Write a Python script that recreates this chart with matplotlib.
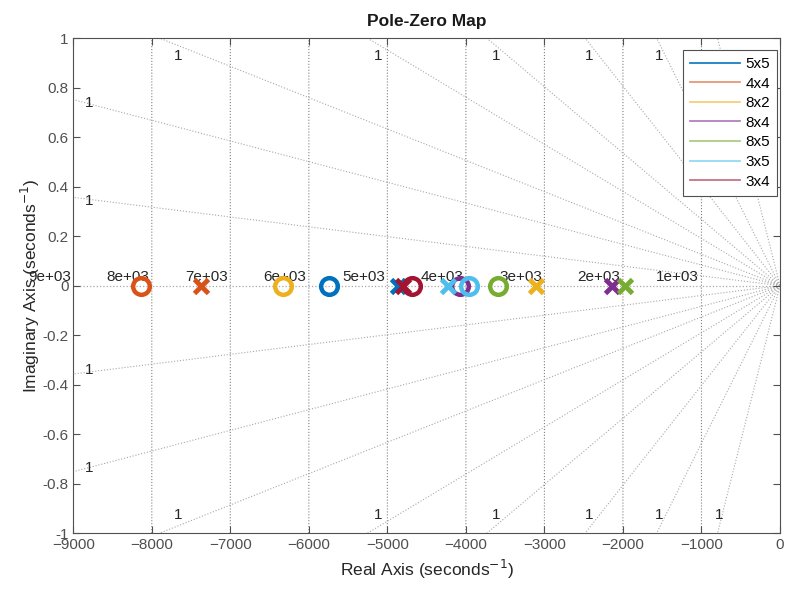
import numpy as np
import matplotlib.pyplot as plt
from matplotlib.lines import Line2D

plt.rcParams['font.family'] = ['Liberation Sans', 'DejaVu Sans']

# system names, zeros and poles (real axis, seconds^-1)
names = ['5x5', '4x4', '8x2', '8x4', '8x5', '3x5', '3x4']
colors = ['#0072BD', '#D95319', '#EDB120', '#7E2F8E', '#77AC30', '#4DBEEE', '#A2142F']
zeros_re = [-5740, -8142, -6333, -4075, -3587, -3957, -4690]
poles_re = [-4870, -7377, -3107, -2143, -1974, -4224, -4801]

# grid: natural frequency circles and damping rays
wn_values = [1000, 2000, 3000, 4000, 5000, 6000, 7000, 8000, 9000]
wn_labels = ['1e+03', '2e+03', '3e+03', '4e+03', '5e+03', '6e+03', '7e+03', '8e+03', '9e+03']
ray_top_x = [-7896, -5251, -3731, -2480, -1570, -795]   # where rays hit Im = +/-1
ray_top_lab = [-7663, -5123, -3614, -2425, -1535, -770]
ray_left_y = [0.752, 0.357]                             # where rays hit Re = -9000

fig = plt.figure(figsize=(7.87, 5.89), dpi=100)
ax = fig.add_axes([0.0931, 0.095, 0.898, 0.840])

gray = '#a8a8a8'
# wn circles (look like vertical lines at this aspect)
t = np.linspace(np.pi / 2, 3 * np.pi / 2, 4001)
for wn, lab in zip(wn_values, wn_labels):
    ax.plot(wn * np.cos(t), wn * np.sin(t), ':', color='#808080', lw=0.8, zorder=1)
    ax.text(-wn - 30, 0.02, lab, ha='right', va='baseline', fontsize=11,
            color='#262626', clip_on=False, zorder=2)

# damping rays
for xc, xl in zip(ray_top_x, ray_top_lab):
    for s in (1, -1):
        ax.plot([0, xc * 1.3], [0, s * 1.3], ':', color=gray, lw=0.8, zorder=1)
        ax.text(xl, s * 0.928, '1', ha='center', va='center', fontsize=11, color='#262626')
for yc in ray_left_y:
    for s in (1, -1):
        ax.plot([0, -9000 * 1.3], [0, s * yc * 1.3], ':', color=gray, lw=0.8, zorder=1)
        ax.text(-8800, s * (yc - 0.015), '1', ha='center', va='center', fontsize=11, color='#262626')
ax.axhline(0, ls=':', color=gray, lw=0.9, zorder=1)

# poles and zeros
for z, p, c in zip(zeros_re, poles_re, colors):
    ax.plot(z, 0, 'o', ms=12, mfc='none', mec=c, mew=3.2, zorder=3)
    ax.plot(p, 0, 'x', ms=10, mec=c, mew=3.5, zorder=3)

ax.set_xlim(-9000, 0)
ax.set_ylim(-1, 1)
ax.set_xticks(np.arange(-9000, 1, 1000))
ax.set_yticks(np.round(np.arange(-1, 1.01, 0.2), 1))
ax.set_yticklabels(['-1', '-0.8', '-0.6', '-0.4', '-0.2', '0', '0.2', '0.4', '0.6', '0.8', '1'])
ax.tick_params(direction='in', top=True, right=True, labelsize=11, colors='#505050', length=5)
for sp in ax.spines.values():
    sp.set_color('#505050')
    sp.set_linewidth(0.8)

ax.set_title('Pole-Zero Map', fontsize=12.5, fontweight='bold', color='#1a1a1a', pad=9)
ax.set_xlabel('Real Axis (seconds$^{-1}$)', fontsize=12.5, color='#262626', labelpad=4)
ax.set_ylabel('Imaginary Axis (seconds$^{-1}$)', fontsize=12.5, color='#262626', labelpad=0)

handles = [Line2D([0], [0], color=c, lw=1.3, alpha=0.6) for c in colors]
handles[0].set_alpha(0.9)
leg = ax.legend(handles, names, loc='upper right', bbox_to_anchor=(0.9958, 0.9763),
                fontsize=11, fancybox=False, handlelength=3.3, handletextpad=0.35,
                borderaxespad=0, labelspacing=0.37, borderpad=0.45, framealpha=1)
leg.get_frame().set_edgecolor('#505050')
leg.get_frame().set_linewidth(0.8)

fig.savefig('out.png', dpi=100)
